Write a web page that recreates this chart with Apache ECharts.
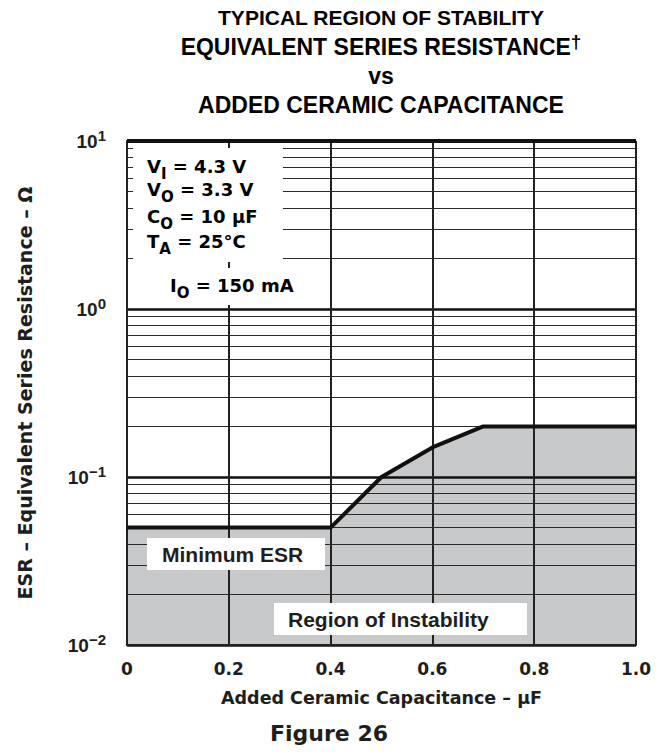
<!DOCTYPE html>
<html>
<head>
<meta charset="utf-8">
<script src="https://cdn.jsdelivr.net/npm/echarts@6/dist/echarts.min.js"></script>
<style>
  html, body { margin: 0; padding: 0; background: #fff; }
  #chart { width: 663px; height: 752px; }
</style>
</head>
<body>
<div id="chart"></div>
<script>
// data
var capacitance = [0, 0.4, 0.5, 0.6, 0.7, 1.0];
var minEsr = [0.05, 0.05, 0.1, 0.15, 0.2, 0.2];
var xTickLabels = ['0', '0.2', '0.4', '0.6', '0.8', '1.0'];
var yTickExponents = ['\u22122', '\u22121', '0', '1'];
var minorGrid = [0.02, 0.03, 0.04, 0.05, 0.06, 0.07, 0.08, 0.09,
                 0.2, 0.3, 0.4, 0.5, 0.6, 0.7, 0.8, 0.9,
                 2, 3, 4, 5, 6, 7, 8, 9];
var yTop = 10;

var INK = '#1e1e1e';
var ARIAL = '"Liberation Sans", Arial, sans-serif';
var DEJA = '"DejaVu Sans", sans-serif';

var chart = echarts.init(document.getElementById('chart'), null, { renderer: 'svg' });

var boundary = capacitance.map(function (c, i) { return [c, minEsr[i]]; });

var gridLines = minorGrid.map(function (v) { return { yAxis: v }; });
gridLines.push({ yAxis: yTop, lineStyle: { width: 4, color: '#111' } });

// text blocks inside the plot
var noteRich = {
  b: { fontFamily: DEJA, fontWeight: 'bold', fontSize: 18, lineHeight: 30, color: INK },
  s: { fontFamily: DEJA, fontWeight: 'bold', fontSize: 15, verticalAlign: 'bottom', color: INK }
};
function note(x, y, text) {
  return { type: 'text', z: 101, x: x, y: y,
    style: { text: text, rich: noteRich, align: 'left', verticalAlign: 'middle' } };
}
function box(x, y, w, h) {
  return { type: 'rect', z: 100, shape: { x: x, y: y, width: w, height: h },
    style: { fill: '#fff' } };
}
function label(x, y, text) {
  return { type: 'text', z: 101, x: x, y: y,
    style: { text: text, fill: INK, font: 'bold 21px ' + ARIAL, align: 'left', verticalAlign: 'middle' } };
}

var option = {
  animation: false,
  backgroundColor: '#fff',
  grid: { left: 127, right: 27, top: 141, bottom: 107 },
  xAxis: {
    type: 'value', min: 0, max: 1, interval: 0.2, z: 3,
    name: 'Added Ceramic Capacitance \u2013 \u03bcF',
    nameLocation: 'middle', nameGap: 44,
    nameTextStyle: { fontFamily: DEJA, fontWeight: 'bold', fontSize: 17.5, color: INK },
    axisLine: { lineStyle: { color: '#222', width: 2 } },
    axisTick: { show: false },
    axisLabel: {
      margin: 15, color: INK, fontFamily: DEJA, fontWeight: 'bold', fontSize: 17,
      formatter: function (v, i) { return xTickLabels[i]; }
    },
    splitLine: { show: true, lineStyle: { color: '#222', width: 2 } }
  },
  yAxis: {
    type: 'log', logBase: 10, min: 0.01, max: 10, z: 3,
    name: 'ESR \u2013 Equivalent Series Resistance \u2013 \u03a9',
    nameLocation: 'middle', nameGap: 93, nameRotate: 90,
    nameTextStyle: { fontFamily: DEJA, fontWeight: 'bold', fontSize: 19, color: INK },
    axisLine: { show: true, lineStyle: { color: '#222', width: 2 } },
    axisTick: { show: false },
    axisLabel: {
      margin: 21, color: INK, fontFamily: ARIAL, fontWeight: 'bold', fontSize: 19,
      formatter: function (v, i) { return '{b|10}{s|' + yTickExponents[i] + '}'; },
      rich: {
        b: { fontFamily: ARIAL, fontWeight: 'bold', fontSize: 19, lineHeight: 26, color: INK },
        s: { fontFamily: ARIAL, fontWeight: 'bold', fontSize: 15, verticalAlign: 'top', color: INK }
      }
    },
    splitLine: { show: true, lineStyle: { color: '#111', width: 2.5 } }
  },
  series: [
    {
      // region of instability
      type: 'line', z: 1, data: boundary, symbol: 'none', silent: true,
      lineStyle: { width: 0 },
      areaStyle: { color: '#c8c9cb', opacity: 1, origin: 'start' },
      markLine: {
        silent: true, symbol: ['none', 'none'], label: { show: false },
        lineStyle: { color: '#2a2a2a', width: 1, type: 'solid' },
        data: gridLines
      }
    },
    {
      // minimum ESR boundary
      type: 'line', z: 6, data: boundary, symbol: 'none', silent: true,
      lineStyle: { color: '#111', width: 4 }
    }
  ],
  graphic: [
    {
      type: 'text', z: 101, x: 381, y: 3,
      style: {
        text: '{a|TYPICAL REGION OF STABILITY}\n{w|EQUIVALENT SERIES RESISTANCE}{d|\u2020}\n{w|vs}\n{w|ADDED CERAMIC CAPACITANCE}',
        align: 'center', verticalAlign: 'top',
        rich: {
          a: { fontFamily: ARIAL, fontWeight: 'bold', fontSize: 21, lineHeight: 29, color: INK },
          w: { fontFamily: ARIAL, fontWeight: 'bold', fontSize: 23, lineHeight: 29, color: INK },
          d: { fontFamily: ARIAL, fontWeight: 'bold', fontSize: 19, verticalAlign: 'top', color: INK }
        }
      }
    },
    box(133, 148, 150, 114),
    box(133, 268, 150, 37),
    note(147, 166, '{b|V}{s|I}{b| = 4.3 V}'),
    note(147, 189, '{b|V}{s|O}{b| = 3.3 V}'),
    note(147, 216, '{b|C}{s|O}{b| = 10 \u03bcF}'),
    note(147, 241, '{b|T}{s|A}{b| = 25\u00b0C}'),
    note(170, 285, '{b|I}{s|O}{b| = 150 mA}'),
    box(147, 538, 178, 32),
    label(162, 554, 'Minimum ESR'),
    box(274, 603, 253, 32),
    label(288, 619, 'Region of Instability'),
    {
      type: 'text', z: 101, x: 329, y: 733,
      style: { text: 'Figure 26', fill: INK, font: 'bold 22px ' + DEJA, align: 'center', verticalAlign: 'middle' }
    }
  ]
};

chart.setOption(option);
</script>
</body>
</html>
